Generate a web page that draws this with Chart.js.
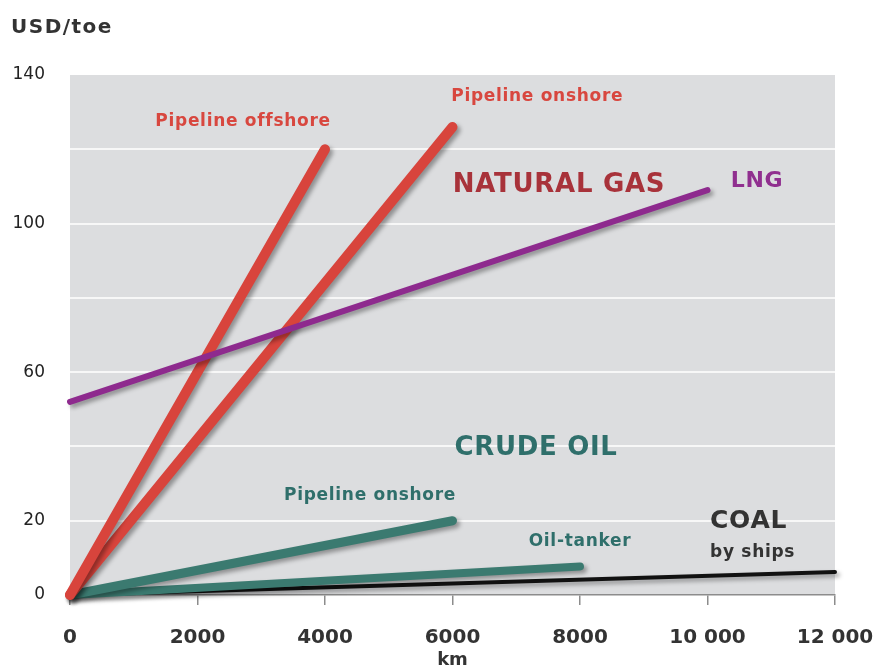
<!DOCTYPE html>
<html>
<head>
<meta charset="utf-8">
<script src="https://cdn.jsdelivr.net/npm/chart.js@4.4.0/dist/chart.umd.min.js"></script>
<style>
    html, body { margin: 0; padding: 0; background: #fff; }
    #wrap { width: 875px; height: 671px; position: relative; }
</style>
</head>
<body>
<div id="wrap"><canvas id="costChart"></canvas></div>
<script>
// Transport cost by distance (km -> USD/toe)
const gasOffshoreKm = [0, 4000];
const gasOffshoreUsd = [0, 120];
const gasOnshoreKm = [0, 6000];
const gasOnshoreUsd = [0, 126];
const lngKm = [0, 10000];
const lngUsd = [52, 109];
const oilPipelineKm = [0, 6000];
const oilPipelineUsd = [0, 20];
const oilTankerKm = [0, 8000];
const oilTankerUsd = [0, 7.7];
const coalShipKm = [0, 12000];
const coalShipUsd = [0, 6.2];

const yTickLabels = [0, 20, 60, 100, 140];

// Text labels placed in data coordinates
const notes = [
    { text: 'Pipeline offshore', x: 2714, y: 127.4, color: '#d8473f', size: 17, spacing: 0.7, align: 'center' },
    { text: 'Pipeline onshore', x: 7329, y: 134.1, color: '#d8473f', size: 17, spacing: 0.7, align: 'center' },
    { text: 'NATURAL GAS', x: 7671, y: 110.4, color: '#a8323a', size: 26, spacing: 0.7, align: 'center' },
    { text: 'LNG', x: 10776, y: 111.5, color: '#902f8f', size: 22, spacing: 0.7, align: 'center' },
    { text: 'CRUDE OIL', x: 7310, y: 39.6, color: '#2f6f6b', size: 26, spacing: 0.7, align: 'center' },
    { text: 'Pipeline onshore', x: 4706, y: 26.7, color: '#2f6f6b', size: 17, spacing: 0.7, align: 'center' },
    { text: 'Oil-tanker', x: 8000, y: 14.5, color: '#2f6f6b', size: 17, spacing: 0.7, align: 'center' },
    { text: 'COAL', x: 10040, y: 19.9, color: '#333333', size: 25, spacing: 0.7, align: 'left' },
    { text: 'by ships', x: 10040, y: 11.3, color: '#333333', size: 17, spacing: 0.7, align: 'left' }
];

const FONT = "'DejaVu Sans', Verdana, sans-serif";

function toPoints(xs, ys) {
    return xs.map((x, i) => ({ x: x, y: ys[i] }));
}

function series(label, xs, ys, color, width, order) {
    return {
        label: label,
        data: toPoints(xs, ys),
        borderColor: color,
        backgroundColor: color,
        borderWidth: width,
        borderCapStyle: 'round',
        pointRadius: 0,
        tension: 0,
        order: order
    };
}

// Grey plot background
const plotBackground = {
    id: 'plotBackground',
    beforeDraw(chart) {
        const { ctx, chartArea: a } = chart;
        ctx.save();
        ctx.fillStyle = '#dcdddf';
        ctx.fillRect(a.left, a.top, a.right - a.left, a.bottom - a.top);
        ctx.restore();
    }
};

// Soft drop shadow under each line
const lineShadow = {
    id: 'lineShadow',
    beforeDatasetDraw(chart) {
        const ctx = chart.ctx;
        ctx.save();
        ctx.shadowColor = 'rgba(0, 0, 0, 0.35)';
        ctx.shadowBlur = 4;
        ctx.shadowOffsetX = 3;
        ctx.shadowOffsetY = 3;
    },
    afterDatasetDraw(chart) {
        chart.ctx.restore();
    }
};

// Unit label and in-plot text
const textNotes = {
    id: 'textNotes',
    afterDatasetsDraw(chart) {
        const { ctx, scales } = chart;
        ctx.save();
        ctx.textBaseline = 'middle';
        notes.forEach(n => {
            ctx.font = `bold ${n.size}px ${FONT}`;
            ctx.letterSpacing = n.spacing + 'px';
            ctx.fillStyle = n.color;
            ctx.textAlign = n.align;
            ctx.fillText(n.text, scales.x.getPixelForValue(n.x), scales.y.getPixelForValue(n.y));
        });
        ctx.font = `bold 20px ${FONT}`;
        ctx.letterSpacing = '1.5px';
        ctx.fillStyle = '#333333';
        ctx.textAlign = 'left';
        ctx.fillText('USD/toe', 11, 28);
        ctx.restore();
    }
};

const ctx = document.getElementById('costChart');
new Chart(ctx, {
    type: 'line',
    data: {
        datasets: [
            series('LNG', lngKm, lngUsd, '#8e2a8e', 6, 0),
            series('Gas pipeline offshore', gasOffshoreKm, gasOffshoreUsd, '#d8443c', 10, 1),
            series('Gas pipeline onshore', gasOnshoreKm, gasOnshoreUsd, '#d8443c', 10, 2),
            series('Oil pipeline onshore', oilPipelineKm, oilPipelineUsd, '#3b7a70', 9, 3),
            series('Oil-tanker', oilTankerKm, oilTankerUsd, '#3b7a70', 8, 4),
            series('Coal by ships', coalShipKm, coalShipUsd, '#111111', 4, 5)
        ]
    },
    options: {
        responsive: true,
        maintainAspectRatio: false,
        animation: false,
        clip: false,
        layout: {
            padding: { left: 0, right: 40, top: 75, bottom: 0 }
        },
        scales: {
            x: {
                type: 'linear',
                min: 0,
                max: 12000,
                afterFit(scale) {
                    scale.height = 76;
                    scale.paddingLeft = 0;
                    scale.paddingRight = 0;
                },
                border: { display: true, color: '#8c8c8c', width: 1.5 },
                grid: {
                    drawOnChartArea: false,
                    drawTicks: true,
                    tickLength: 10,
                    color: '#8c8c8c',
                    lineWidth: 1.5
                },
                ticks: {
                    stepSize: 2000,
                    padding: 21,
                    maxRotation: 0,
                    color: '#333333',
                    font: { family: FONT, size: 20, weight: 'bold' },
                    callback: function(value) {
                        return value >= 10000 ? String(value).replace(/(\d{3})$/, ' $1') : String(value);
                    }
                },
                title: {
                    display: true,
                    text: 'km',
                    color: '#333333',
                    font: { family: FONT, size: 18, weight: 'bold' },
                    padding: { top: 0, bottom: 0 }
                }
            },
            y: {
                min: 0,
                max: 140,
                afterFit(scale) { scale.width = 70; },
                border: { display: false },
                grid: {
                    drawTicks: false,
                    lineWidth: 2,
                    color: c => (c.tick.value === 0 || c.tick.value === 140) ? 'rgba(0,0,0,0)' : '#f7f7f7'
                },
                ticks: {
                    stepSize: 20,
                    padding: 25,
                    color: '#222222',
                    font: { family: FONT, size: 17 },
                    callback: function(value) {
                        return yTickLabels.includes(value) ? String(value) : '';
                    }
                }
            }
        },
        plugins: {
            legend: { display: false },
            tooltip: { enabled: false }
        }
    },
    plugins: [plotBackground, lineShadow, textNotes]
});
</script>
</body>
</html>
